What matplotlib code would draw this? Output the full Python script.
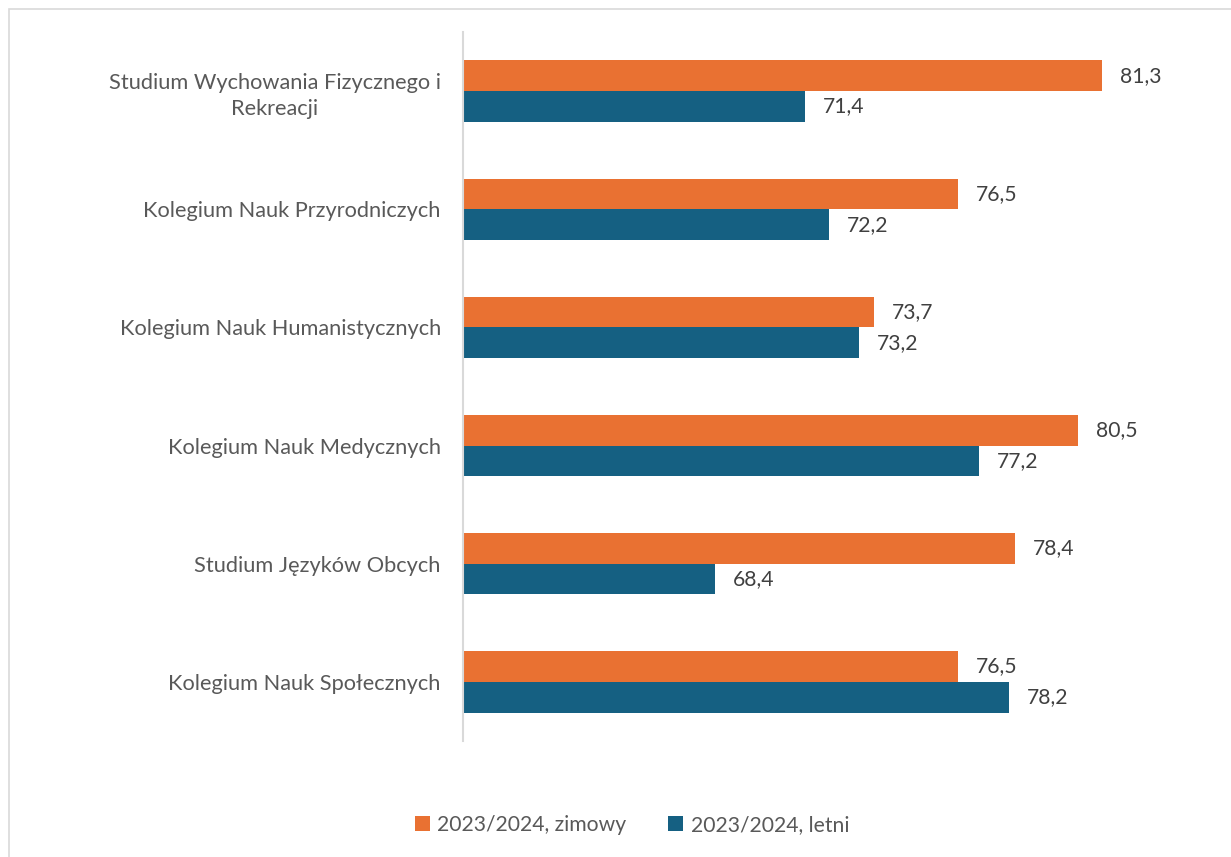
import numpy as np
from matplotlib import pyplot as plt
from matplotlib.patches import Rectangle

categories = ['Studium Wychowania Fizycznego i\nRekreacji',
              'Kolegium Nauk Przyrodniczych',
              'Kolegium Nauk Humanistycznych',
              'Kolegium Nauk Medycznych',
              'Studium Języków Obcych',
              'Kolegium Nauk Społecznych']
zimowy = [81.3, 76.5, 73.7, 80.5, 78.4, 76.5]
letni = [71.4, 72.2, 73.2, 77.2, 68.4, 78.2]
series_names = ['2023/2024, zimowy', '2023/2024, letni']

orange = '#E97132'
blue = '#156082'

plt.rcParams['font.family'] = ['Lato', 'DejaVu Sans']
fs = 15.2

W, H = 1231, 857
fig = plt.figure(figsize=(W / 100, H / 100), dpi=100)
fig.patches.append(Rectangle((9 / W, -0.01), 1.1, 1 - 9 / H + 0.01, transform=fig.transFigure,
                             fill=False, edgecolor='#d9d9d9', linewidth=1.2))

ax = fig.add_axes([463 / W, 1 - 741 / H, 750 / W, (741 - 32) / H])
n = len(categories)
y = np.arange(n)
h = 0.26
ax.barh(y - h / 2, zimowy, height=h, left=0, color=orange, label=series_names[0])
ax.barh(y + h / 2, letni, height=h, left=0, color=blue, label=series_names[1])

for i in range(n):
    ax.text(zimowy[i] + 0.6, y[i] - h / 2, ('%.1f' % zimowy[i]).replace('.', ','),
            va='center', ha='left', fontsize=fs, color='#404040')
    ax.text(letni[i] + 0.6, y[i] + h / 2, ('%.1f' % letni[i]).replace('.', ','),
            va='center', ha='left', fontsize=fs, color='#404040')

ax.set_xlim(60, 85)
ax.set_ylim(n - 0.5, -0.5)
ax.set_yticks(y)
ax.set_yticklabels(categories, fontsize=15.7, color='#595959', ha='right')
for lab in ax.get_yticklabels():
    lab.set_multialignment('center')
    lab.set_linespacing(1.4)
ax.tick_params(axis='y', length=0, pad=16)
ax.set_xticks([])
for s in ['top', 'right', 'bottom']:
    ax.spines[s].set_visible(False)
ax.spines['left'].set_color('#d9d9d9')
ax.spines['left'].set_linewidth(1.5)

leg = fig.legend(loc='center', bbox_to_anchor=(632 / W, 1 - 825 / H), ncol=2, frameon=False,
                 fontsize=fs, handlelength=0.7, handleheight=0.7, handletextpad=0.35,
                 columnspacing=2.0, labelcolor='#595959')

fig.savefig('out.png', dpi=100)
